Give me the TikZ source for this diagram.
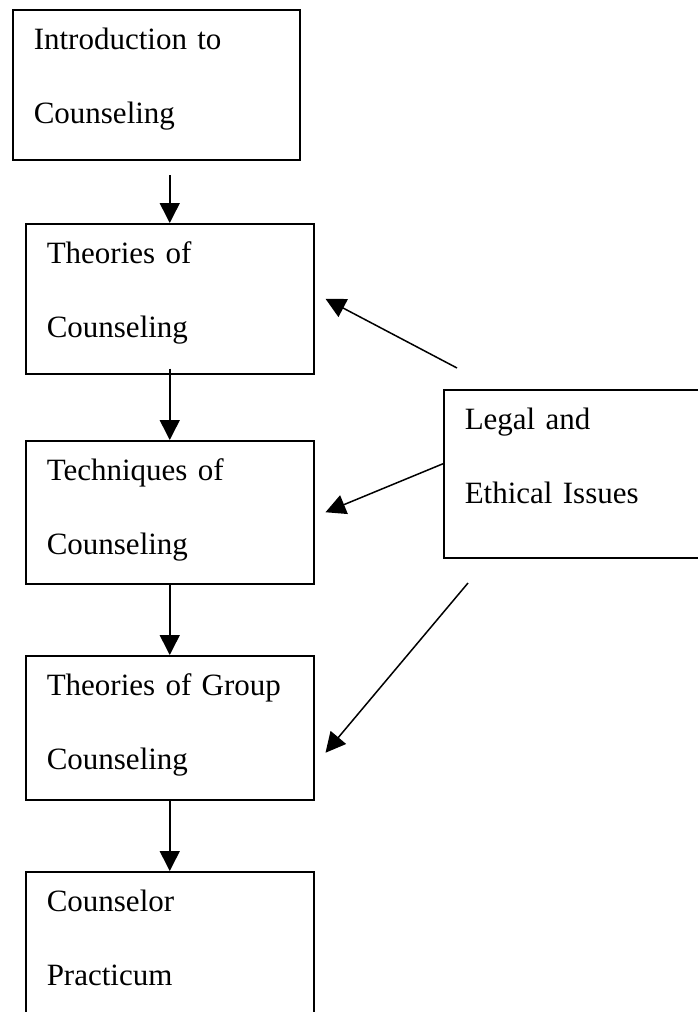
\documentclass[tikz,border=0pt]{standalone}
\usepackage{fontspec}
\setmainfont{Liberation Serif}
\usetikzlibrary{arrows.meta}
\begin{document}
\begin{tikzpicture}[x=1pt,y=-1pt,
    stage/.style={draw,line width=1.5pt,anchor=north west,inner xsep=21pt,inner ysep=0pt,
        text width=246pt,align=left,font=\fontsize{31}{74}\selectfont,text height=40pt},
    flow/.style={line width=1.5pt,-{Triangle[length=20pt,width=20pt]}}]
 \useasboundingbox (0,0) rectangle (698,1012);
 \clip (0,0) rectangle (698,1012);
 % course boxes
 \node[stage,text width=245pt,text depth=110pt] (intro) at (12,9) {Introduction to\\Counseling};
 \node[stage,text depth=110pt] (theo) at (25,223) {Theories of\\Counseling};
 \node[stage,text depth=103pt] (tech) at (25,440) {Techniques of\\Counseling};
 \node[stage,text depth=104pt] (group) at (25,655) {Theories of Group\\Counseling};
 \node[stage,text depth=160pt] (pract) at (25,871) {Counselor\\Practicum};
 \node[stage,text width=300pt,text depth=128pt] (legal) at (443,389) {Legal and\\Ethical Issues};
 % sequence
 \draw[flow] ([yshift=48pt]theo.north) -- (theo.north);
 \draw[flow] ([yshift=6pt]theo.south) -- (tech.north);
 \draw[flow] (tech.south) -- (group.north);
 \draw[flow] (group.south) -- (pract.north);
 % legal and ethical issues
 \coordinate (lfree1) at (457,368);
 \coordinate (lfree3) at (468,583);
 \draw[flow] (lfree1) -- ([xshift=11pt]theo.east);
 \draw[flow] ([yshift=10pt]legal.west) -- ([xshift=11pt]tech.east);
 \draw[flow] (lfree3) -- ([shift={(11pt,-25pt)}]group.east);
\end{tikzpicture}
\end{document}
